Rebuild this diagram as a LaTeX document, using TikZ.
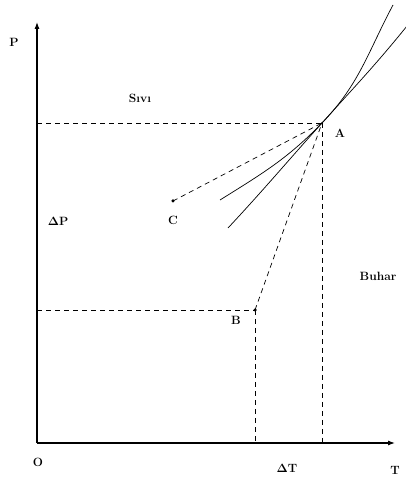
\documentclass[tikz,border=0pt]{standalone}
\usepackage{amsmath}
\usetikzlibrary{arrows.meta,calc}

\begin{document}
\begin{tikzpicture}[
      x=1pt, y=1pt,
      axis/.style={-{Latex[length=7pt,width=5pt]}, line width=1.1pt},
      guide/.style={dashed, dash pattern=on 5pt off 4pt, line width=0.7pt},
      curve/.style={line width=0.7pt},
      lbl/.style={font=\bfseries\large, inner sep=1pt},
      pt/.style={circle, fill, inner sep=0pt, minimum size=3.5pt},
    ]
    \useasboundingbox (-37,-36) rectangle (368,443);

    % axes
    \coordinate (O) at (0,0);
    \coordinate (ptop) at (0,421);
    \coordinate (tend) at (358,0);
    \draw[axis] (O) -- (ptop);
    \draw[axis] (O) -- (tend);

    % state points
    \node[pt, minimum size=2pt] (A) at (285,320) {};
    \node[pt] (B) at (218,133) {};
    \node[pt] (C) at (136,242) {};

    % feet of the guide lines
    \coordinate (pA) at (0,320);
    \coordinate (tA) at (285,0);
    \coordinate (pB) at (0,133);
    \coordinate (tB) at (218,0);

    \draw[guide] (pA) -- (A.center);
    \draw[guide] (A.center) -- (tA);
    \draw[guide] (pB) -- (B.center);
    \draw[guide] (B.center) -- (tB);
    \draw[guide] (B.center) -- (A.center);
    \draw[guide] (C.center) -- (A.center);

    % the two curves through A
    \coordinate (c1a) at (183,243);
    \coordinate (c1b) at (356,438);
    \coordinate (c2a) at (191,215);
    \coordinate (c2b) at (370,417);
    \draw[curve] (c1a) to[out=32, in=226] (A.center) to[out=46, in=242] (c1b);
    \draw[curve] (c2a) to[out=47, in=228] (A.center) to[out=48, in=231] (c2b);

    % labels
    \node[lbl] (lP)    at (-23,401) {P};
    \node[lbl] (lO)    at (1,-19)   {O};
    \node[lbl] (lT)    at (358,-27) {T};
    \node[lbl] (ldT)   at (250,-25) {$\boldsymbol{\Delta}$T};
    \node[lbl] (ldP)   at (21,222)  {$\boldsymbol{\Delta}$P};
    \node[lbl] (lsivi) at (103,345) {S\i v\i};
    \node[lbl] (lA)    at (303,310) {A};
    \node[lbl] (lB)    at (199,123) {B};
    \node[lbl] (lC)    at (136,223) {C};
    \node[lbl] (lbuh)  at (341,167) {Buhar};
  \end{tikzpicture}
\end{document}
